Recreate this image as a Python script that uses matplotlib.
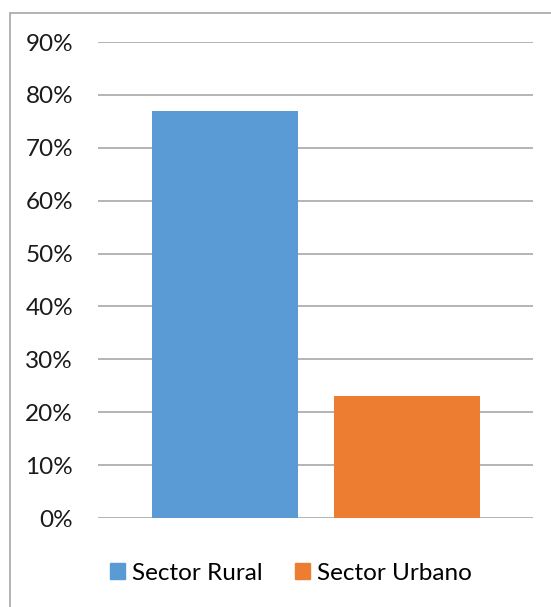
import matplotlib.pyplot as plt
import matplotlib.patches as mpatches
from matplotlib.ticker import PercentFormatter

series = ["Sector Rural", "Sector Urbano"]
values = [77, 23]
colors = ["#5B9BD5", "#ED7D31"]
yticks = [0, 10, 20, 30, 40, 50, 60, 70, 80, 90]

plt.rcParams['font.family'] = ['Lato', 'DejaVu Sans']

fig = plt.figure(figsize=(5.51, 6.07), dpi=100)
ax = fig.add_axes([0.1779, 0.1466, 0.9673 - 0.1779, 0.9308 - 0.1466])

bars = ax.bar(range(len(values)), values, width=0.802, color=colors, zorder=3)
ax.set_xlim(-0.698, 1.692)
ax.set_ylim(0, 90)
ax.set_yticks(yticks)
ax.yaxis.set_major_formatter(PercentFormatter(decimals=0))
ax.set_xticks([])
ax.grid(axis='y', color='#a0a0a0', linewidth=1.1, zorder=0)
for s in ax.spines.values():
    s.set_visible(False)
ax.tick_params(axis='y', length=0, pad=18, labelsize=17.5, labelcolor='#1a1a1a')

# legend at the bottom
handles = [mpatches.Patch(color=c, label=l) for c, l in zip(colors, series)]
fig.legend(handles=handles, loc='center', bbox_to_anchor=(0.528, 0.056), ncol=2,
           frameon=False, fontsize=17.5, handlelength=0.62, handleheight=0.62,
           handletextpad=0.3, columnspacing=1.3)

# chart border (right and bottom edges fall outside the image)
border = mpatches.Rectangle((9.5 / 551, -0.1), 1.2, 1 - 12.5 / 607 + 0.1,
                            transform=fig.transFigure, fill=False,
                            edgecolor='#a6a6a6', linewidth=1.2)
fig.patches.append(border)

fig.savefig('out.png', dpi=100)
